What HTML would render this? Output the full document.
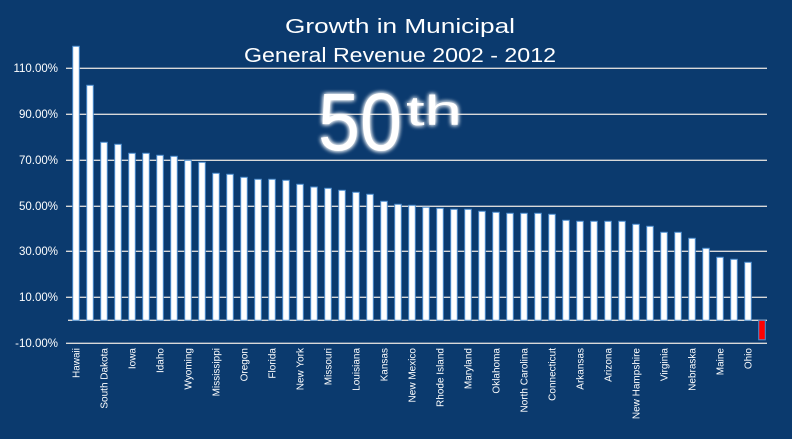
<!DOCTYPE html>
<html><head><meta charset="utf-8"><style>
html,body{margin:0;padding:0;background:#0b3a6e;}
svg{display:block;font-family:"Liberation Sans",sans-serif;}
</style></head><body>
<svg width="792" height="439" viewBox="0 0 792 439">
<rect width="792" height="439" fill="#0b3a6e"/>
<g stroke="#d9d9d9" stroke-width="1.3">
<line x1="66" y1="68.3" x2="767" y2="68.3"/>
<line x1="66" y1="114.3" x2="767" y2="114.3"/>
<line x1="66" y1="160.3" x2="767" y2="160.3"/>
<line x1="66" y1="206.3" x2="767" y2="206.3"/>
<line x1="66" y1="251.3" x2="767" y2="251.3"/>
<line x1="66" y1="297.3" x2="767" y2="297.3"/>
<line x1="66" y1="343.3" x2="767" y2="343.3"/>
<line x1="68" y1="320.3" x2="767" y2="320.3"/>
</g>
<g fill="#fff" font-size="11.5" text-anchor="end">
<text x="58" y="72">110.00%</text>
<text x="58" y="118">90.00%</text>
<text x="58" y="164">70.00%</text>
<text x="58" y="210">50.00%</text>
<text x="58" y="255">30.00%</text>
<text x="58" y="301">10.00%</text>
<text x="58" y="347">-10.00%</text>
</g>
<g id="bars" fill="#fff" stroke="#4f8fd0" stroke-width="1"></g>
<g id="labels" fill="#fff" font-size="10" text-anchor="end"></g>
<g fill="#fff" font-size="20">
<text x="285" y="33" textLength="230" lengthAdjust="spacingAndGlyphs">Growth in Municipal</text>
<text x="244" y="62" textLength="312" lengthAdjust="spacingAndGlyphs">General Revenue 2002 - 2012</text>
</g>
<defs><filter id="gl" x="-20%" y="-20%" width="140%" height="140%"><feGaussianBlur stdDeviation="2.5" result="b"/><feMerge><feMergeNode in="b"/><feMergeNode in="b"/><feMergeNode in="SourceGraphic"/></feMerge></filter></defs>
<g fill="#fff" filter="url(#gl)">
<text x="318" y="150" font-size="82" textLength="84" lengthAdjust="spacingAndGlyphs">50</text>
<text x="406" y="125" font-size="42" textLength="56" lengthAdjust="spacingAndGlyphs">th</text>
</g>
</svg>
<script>
var tops=[46.3,85.3,142.3,144.3,153.3,153.3,155.3,156.3,160.3,162.3,173.3,174.3,177.3,179.3,179.3,180.3,184.3,187,188.3,190.3,192.3,194.3,201.3,204.3,205.3,207.3,208.3,209.3,209.3,211.3,212.3,213.3,213.3,213.3,214.3,220.3,221.3,221.3,221.3,221.3,224.3,226.3,232.3,232.3,238.3,248.3,257.3,259.3,262.3];
var names={0:"Hawaii",2:"South Dakota",4:"Iowa",6:"Idaho",8:"Wyoming",10:"Mississippi",12:"Oregon",14:"Florida",16:"New York",18:"Missouri",20:"Louisiana",22:"Kansas",24:"New Mexico",26:"Rhode Island",28:"Maryland",30:"Oklahoma",32:"North Carolina",34:"Connecticut",36:"Arkansas",38:"Arizona",40:"New Hampshire",42:"Virginia",44:"Nebraska",46:"Maine",48:"Ohio"};
var ns="http://www.w3.org/2000/svg",bg=document.getElementById("bars"),lg=document.getElementById("labels");
for(var i=0;i<50;i++){var x=72.7+14*i;var r=document.createElementNS(ns,"rect");r.setAttribute("x",x);r.setAttribute("width",6.6);
if(i<49){r.setAttribute("y",tops[i]);r.setAttribute("height",320.3-tops[i]);}else{r.setAttribute("y",320.3);r.setAttribute("height",19.5);r.setAttribute("fill","#ff0000");}
bg.appendChild(r);
if(names[i]){var t=document.createElementNS(ns,"text");var cx=x+3.3+3.5,cy=348;t.setAttribute("x",cx);t.setAttribute("y",cy);t.setAttribute("transform","rotate(-90 "+cx+" "+cy+")");t.textContent=names[i];lg.appendChild(t);}}
</script>
</body></html>
